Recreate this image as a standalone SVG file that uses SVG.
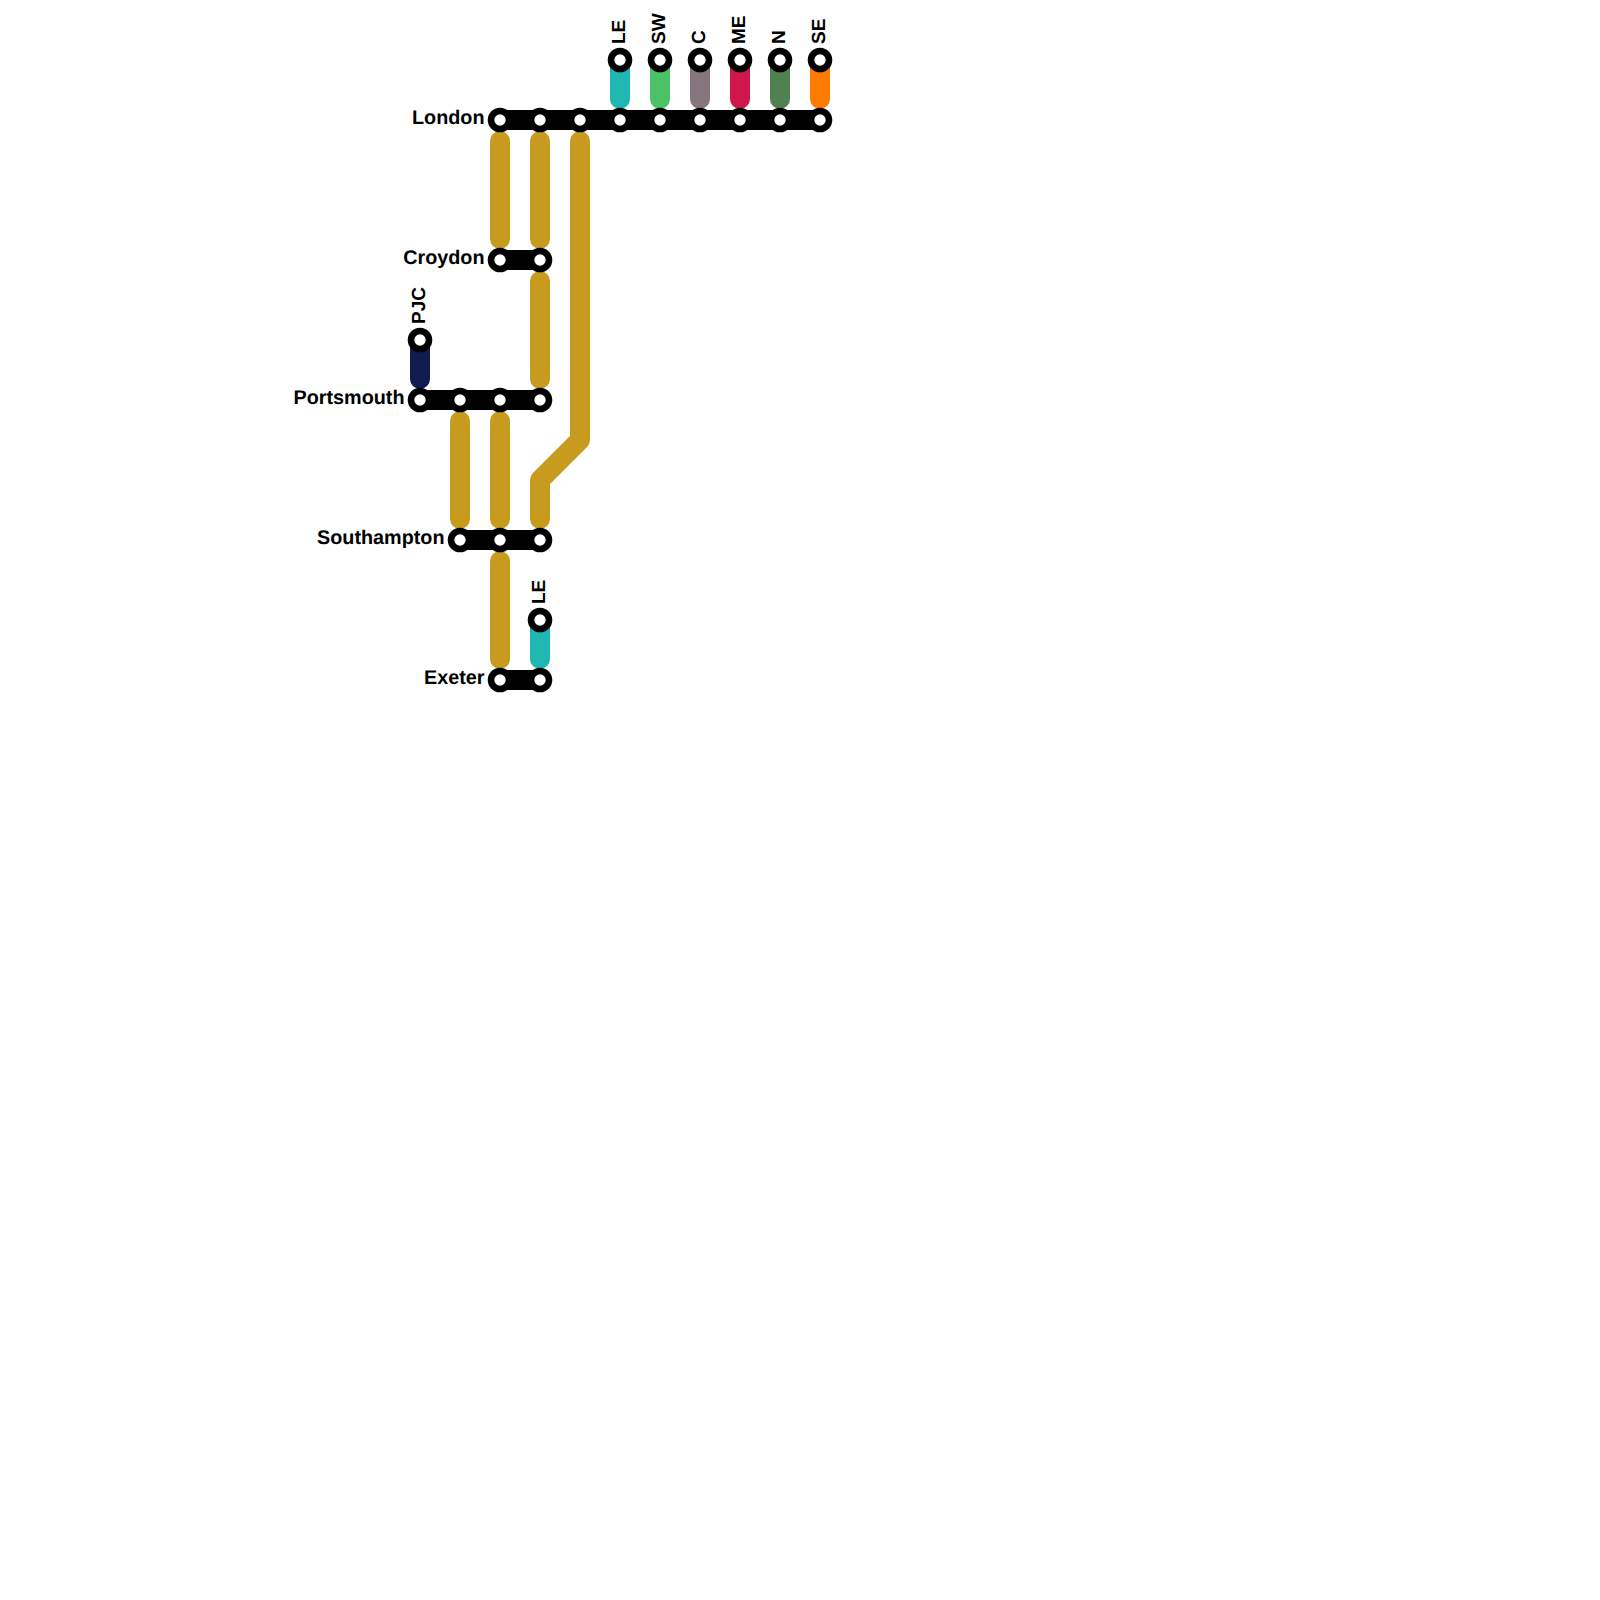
<svg xmlns="http://www.w3.org/2000/svg" width="1600" height="1600" viewBox="0 0 1600 1600">
<style>
.l{fill:none;stroke-width:20;stroke-linecap:round;stroke-linejoin:round}
.k{stroke:#000}.g{stroke:#c79b1e}
.s{fill:#fff;stroke:#000;stroke-width:6.6}
text{font-family:"Liberation Sans",Arial,sans-serif;font-weight:700;font-size:19.8px;fill:#000;text-rendering:geometricPrecision}
.e{text-anchor:end}
.r{font-size:19px}
</style>
<rect width="1600" height="1600" fill="#fff"/>
<g id="connectors">
<path class="l" stroke="#20b7b3" d="M620 60V99"/>
<path class="l" stroke="#4bc168" d="M660 60V99"/>
<path class="l" stroke="#85757c" d="M700 60V99"/>
<path class="l" stroke="#d0174b" d="M740 60V99"/>
<path class="l" stroke="#4f8250" d="M780 60V99"/>
<path class="l" stroke="#ff7b00" d="M820 60V99"/>
<path class="l" stroke="#111c4e" d="M420 340V379"/>
<path class="l" stroke="#20b7b3" d="M540 620V659"/>
<path class="l g" d="M500 141V239"/>
<path class="l g" d="M540 141V239"/>
<path class="l g" d="M540 281V379"/>
<path class="l g" d="M580 141V440L540 480V519"/>
<path class="l g" d="M460 421V519"/>
<path class="l g" d="M500 421V519"/>
<path class="l g" d="M500 561V659"/>
<path class="l k" d="M500 120H820"/>
<path class="l k" d="M500 260H540"/>
<path class="l k" d="M420 400H540"/>
<path class="l k" d="M460 540H540"/>
<path class="l k" d="M500 680H540"/>
</g>
<g id="london"><circle class="s" cx="500" cy="120" r="9"/><circle class="s" cx="540" cy="120" r="9"/><circle class="s" cx="580" cy="120" r="9"/><circle class="s" cx="620" cy="120" r="9"/><circle class="s" cx="660" cy="120" r="9"/><circle class="s" cx="700" cy="120" r="9"/><circle class="s" cx="740" cy="120" r="9"/><circle class="s" cx="780" cy="120" r="9"/><circle class="s" cx="820" cy="120" r="9"/><text class="e" x="484.500" y="124.300">London</text></g>
<g id="croydon"><circle class="s" cx="500" cy="260" r="9"/><circle class="s" cx="540" cy="260" r="9"/><text class="e" x="484.500" y="264.300">Croydon</text></g>
<g id="portsmouth"><circle class="s" cx="420" cy="400" r="9"/><circle class="s" cx="460" cy="400" r="9"/><circle class="s" cx="500" cy="400" r="9"/><circle class="s" cx="540" cy="400" r="9"/><text class="e" x="404.500" y="404.300">Portsmouth</text></g>
<g id="southampton"><circle class="s" cx="460" cy="540" r="9"/><circle class="s" cx="500" cy="540" r="9"/><circle class="s" cx="540" cy="540" r="9"/><text class="e" x="444.500" y="544.300">Southampton</text></g>
<g id="exeter"><circle class="s" cx="500" cy="680" r="9"/><circle class="s" cx="540" cy="680" r="9"/><text class="e" x="484.500" y="684.300">Exeter</text></g>
<g id="t-le1"><circle class="s" cx="620" cy="60" r="9"/><text class="r" transform="translate(624.500 44) rotate(-90)">LE</text></g>
<g id="t-sw"><circle class="s" cx="660" cy="60" r="9"/><text class="r" transform="translate(664.500 44) rotate(-90)">SW</text></g>
<g id="t-c"><circle class="s" cx="700" cy="60" r="9"/><text class="r" transform="translate(704.500 44) rotate(-90)">C</text></g>
<g id="t-me"><circle class="s" cx="740" cy="60" r="9"/><text class="r" transform="translate(744.500 44) rotate(-90)">ME</text></g>
<g id="t-n"><circle class="s" cx="780" cy="60" r="9"/><text class="r" transform="translate(784.500 44) rotate(-90)">N</text></g>
<g id="t-se"><circle class="s" cx="820" cy="60" r="9"/><text class="r" transform="translate(824.500 44) rotate(-90)">SE</text></g>
<g id="t-pjc"><circle class="s" cx="420" cy="340" r="9"/><text class="r" transform="translate(424.500 324) rotate(-90)">PJC</text></g>
<g id="t-le2"><circle class="s" cx="540" cy="620" r="9"/><text class="r" transform="translate(544.500 604) rotate(-90)">LE</text></g>
</svg>
